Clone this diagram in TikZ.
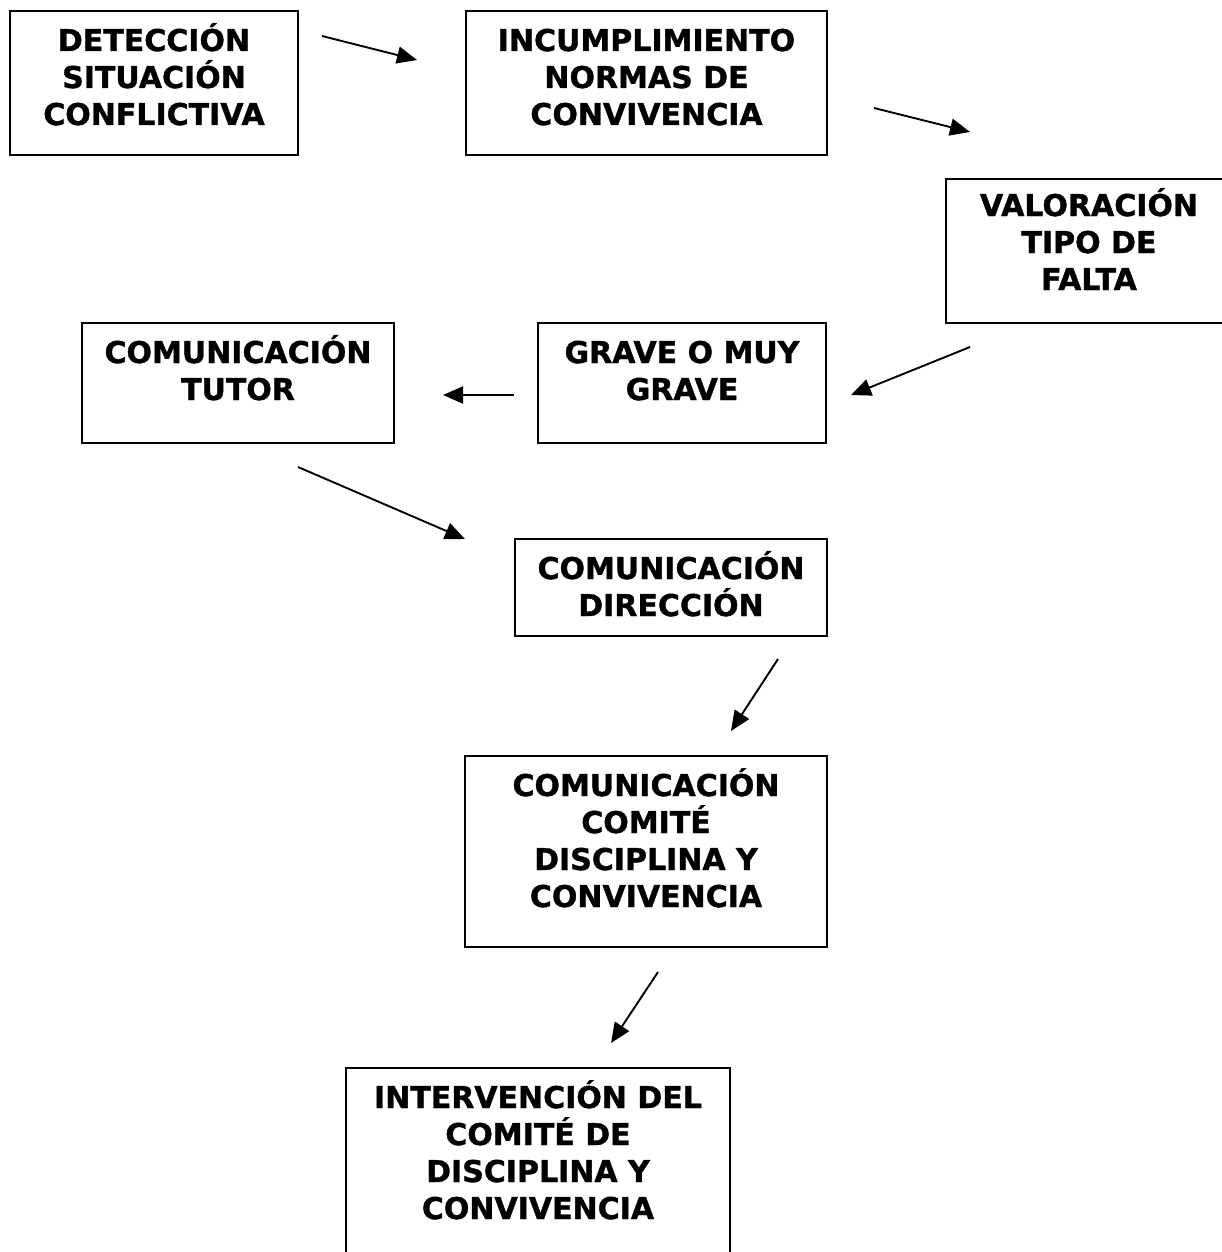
\documentclass[tikz,border=0pt]{standalone}
\usepackage{fontspec}
\setmainfont{DejaVu Sans}
\newfontfamily\heavyfont{DejaVu Sans Bold}[FakeBold=1.2]
\usetikzlibrary{arrows.meta}
\tikzset{
  box/.style={draw, rectangle, line width=1.7pt, inner sep=0pt, outer sep=0pt},
  txt/.style={anchor=north, inner sep=0pt, outer sep=0pt, align=center,
    font=\heavyfont\fontsize{30}{37}\selectfont},
  arr/.style={line width=1.9pt, -{Triangle[length=20pt,width=17pt]}}
}
\newcommand{\topstrut}{\rule{0pt}{40pt}}
\begin{document}
\begin{tikzpicture}[x=1pt,y=-1pt]
\useasboundingbox (0,0) rectangle (1222,1252);
\clip (0,0) rectangle (1222,1252);
% boxes
\node[box, minimum width=288pt, minimum height=144pt] (b1) at (154,83) {};
\node[box, minimum width=361pt, minimum height=144pt] (b2) at (646.5,83) {};
\node[box, minimum width=286pt, minimum height=144pt] (b3) at (1089,251) {};
\node[box, minimum width=288pt, minimum height=120pt] (b4) at (682,383) {};
\node[box, minimum width=312pt, minimum height=120pt] (b5) at (238,383) {};
\node[box, minimum width=312pt, minimum height=97pt] (b6) at (671,587.5) {};
\node[box, minimum width=362pt, minimum height=191pt] (b7) at (646,851.5) {};
\node[box, minimum width=384pt, minimum height=212pt] (b8) at (538,1174) {};
% texts
\node[txt] (t1) at (b1.north) {\topstrut DETECCIÓN\\SITUACIÓN\\CONFLICTIVA};
\node[txt] (t2) at (b2.north) {\topstrut INCUMPLIMIENTO\\NORMAS DE\\CONVIVENCIA};
\node[txt] (t3) at ([yshift=3pt]b3.north) {\topstrut VALORACIÓN\\TIPO DE\\FALTA};
\node[txt] (t4) at (b4.north) {\topstrut GRAVE O MUY\\GRAVE};
\node[txt] (t5) at (b5.north) {\topstrut COMUNICACIÓN\\TUTOR};
\node[txt] (t6) at (b6.north) {\topstrut COMUNICACIÓN\\DIRECCIÓN};
\node[txt] (t7) at (b7.north) {\topstrut COMUNICACIÓN\\COMITÉ\\DISCIPLINA Y\\CONVIVENCIA};
\node[txt] (t8) at (b8.north) {\topstrut INTERVENCIÓN DEL\\COMITÉ DE\\DISCIPLINA Y\\CONVIVENCIA};
% arrow end points
\coordinate (a1s) at (322,36);  \coordinate (a1e) at (417,60);
\coordinate (a2s) at (874,108); \coordinate (a2e) at (970,132);
\coordinate (a3s) at (970,347); \coordinate (a3e) at (851,395);
\coordinate (a4s) at (514,395); \coordinate (a4e) at (443,395);
\coordinate (a5s) at (298,467); \coordinate (a5e) at (465,539);
\coordinate (a6s) at (778,659); \coordinate (a6e) at (731,731);
\coordinate (a7s) at (658,972); \coordinate (a7e) at (611,1043);
\draw[arr] (a1s) -- (a1e);
\draw[arr] (a2s) -- (a2e);
\draw[arr] (a3s) -- (a3e);
\draw[arr] (a4s) -- (a4e);
\draw[arr] (a5s) -- (a5e);
\draw[arr] (a6s) -- (a6e);
\draw[arr] (a7s) -- (a7e);
\end{tikzpicture}
\end{document}
